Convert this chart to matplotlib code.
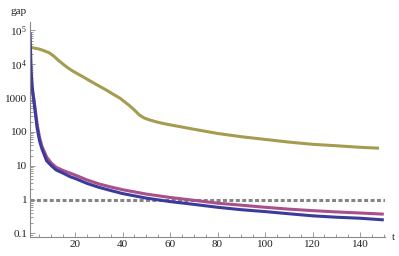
import numpy as np
import matplotlib
matplotlib.use('Agg')
import matplotlib.pyplot as plt
from matplotlib.ticker import FixedLocator, FixedFormatter, LogLocator, MultipleLocator, NullFormatter

plt.rcParams['font.family'] = ['Liberation Serif', 'DejaVu Serif']
plt.rcParams['mathtext.fontset'] = 'custom'
plt.rcParams['mathtext.rm'] = 'Liberation Serif'
plt.rcParams['mathtext.it'] = 'Liberation Serif:italic'

# values
t = [1, 1.5, 2, 2.5, 3, 4, 5, 6, 8, 10, 12, 15, 18, 20, 25, 30, 35, 40,
     50, 60, 70, 80, 90, 100, 110, 120, 130, 140, 150]
gap_blue = [9e4, 6000, 2000, 1000, 500, 130, 55, 32, 14, 10, 7.5, 6.0, 4.7, 4.2,
            3.0, 2.3, 1.85, 1.5, 1.1, 0.87, 0.72, 0.59, 0.5, 0.44, 0.38, 0.33,
            0.3, 0.28, 0.25]
gap_magenta = [3500, 2400, 1500, 1000, 600, 170, 70, 38, 18, 12, 9, 7.2, 6, 5.3,
               3.8, 2.9, 2.35, 1.95, 1.45, 1.15, 0.95, 0.78, 0.68, 0.59, 0.52,
               0.47, 0.43, 0.40, 0.37]

t_gold = [1, 3, 5, 7, 9, 11, 13, 15, 17, 19, 22, 28, 33, 39, 43, 45, 47, 49,
          51, 54, 57, 60, 70, 80, 90, 100, 110, 120, 130, 140, 148]
gap_gold = [3.2e4, 3.0e4, 2.8e4, 2.5e4, 2.2e4, 1.75e4, 1.3e4, 1.0e4, 7800, 6300,
            4800, 2750, 1750, 980, 590, 440, 320, 260, 230, 200, 178, 162, 120,
            90, 72, 60, 50, 43, 39, 35, 33]

threshold = 1.0

yticks = [0.1, 1, 10, 100, 1000, 1e4, 1e5]
ytick_labels = ['0.1', '1', '10', '100', '1000', '$10^{4}$', '$10^{5}$']
xticks = [20, 40, 60, 80, 100, 120, 140]

fig = plt.figure(figsize=(3.99, 2.56), dpi=100)
ax = fig.add_axes([30/399, 1 - 237/256, 355/399, 215/256])

ax.axhline(threshold, color='#858585', lw=2.2, dashes=(1.3, 0.8), zorder=1)
ax.plot(t_gold, gap_gold, color='#a59c50', lw=2.2, solid_capstyle='butt')
ax.plot(t, gap_magenta, color='#a8508c', lw=2.2, solid_capstyle='butt')
ax.plot(t, gap_blue, color='#3b3b9c', lw=2.2, solid_capstyle='butt')

ax.set_yscale('log')
ax.set_xlim(1, 150.5)
ax.set_ylim(0.078, 1.78e5)

ax.yaxis.set_major_locator(FixedLocator(yticks))
ax.yaxis.set_major_formatter(FixedFormatter(ytick_labels))
ax.yaxis.set_minor_locator(LogLocator(base=10, subs=np.arange(2, 10), numticks=20))
ax.yaxis.set_minor_formatter(NullFormatter())
ax.xaxis.set_major_locator(FixedLocator(xticks))
ax.xaxis.set_minor_locator(MultipleLocator(5))

for s in ['top', 'right']:
    ax.spines[s].set_visible(False)
for s in ['left', 'bottom']:
    ax.spines[s].set_color('#8a8a8a')
    ax.spines[s].set_linewidth(0.8)

ax.tick_params(which='both', direction='in', color='#8a8a8a', width=0.6,
               labelsize=8, labelcolor='#222222', pad=2)
ax.tick_params(which='major', length=3.5)
ax.tick_params(which='minor', length=2)

fig.text(19/399, 1 - 11/256, 'gap', ha='center', va='center', fontsize=8, color='#222222')
fig.text(393/399, 1 - 238/256, 't', ha='center', va='center', fontsize=8, color='#222222')

fig.savefig('out.png', dpi=100)
